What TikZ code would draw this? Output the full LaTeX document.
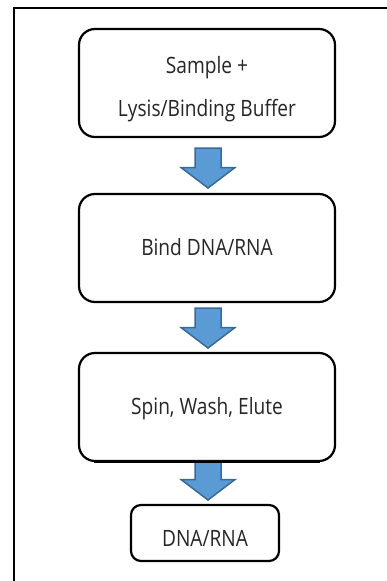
\documentclass[tikz,border=0pt]{standalone}
\usepackage{fontspec}
\setmainfont{Open Sans}[FakeStretch=0.85]
\usetikzlibrary{calc}
\definecolor{arrfill}{HTML}{5B9BD5}
\definecolor{arrline}{HTML}{3A6A94}
\definecolor{txtc}{HTML}{262626}
\tikzset{
  stepbox/.style={draw=black, line width=2.2pt, rounded corners=16pt, fill=white, inner sep=0pt},
  txt/.style={font=\fontsize{22.5}{26}\selectfont, text=txtc, inner sep=0pt, anchor=base},
  barrow/.style={fill=arrfill, draw=arrline, line width=1.5pt, line join=miter},
  frameline/.style={draw=black, line width=2.5pt}
}
\newcommand\blockarr[2]{%
  \path[barrow] ($(#1)+(-13,0)$) -- ($(#1)+(13,0)$) -- ($(#2)+(13,-20.5)$) -- ($(#2)+(27,-20.5)$)
    -- (#2) -- ($(#2)+(-27,-20.5)$) -- ($(#2)+(-13,-20.5)$) -- cycle;}
\begin{document}
\begin{tikzpicture}[x=1pt, y=-1pt]
\useasboundingbox (0,0) rectangle (387,581);
\fill[white] (0,0) rectangle (387,581);
% frame
\coordinate (fTR) at (387,8);
\coordinate (fTL) at (14,8);
\coordinate (fBL) at (14,581);
\draw[frameline] (fTR) -- (fTL) -- (fBL);
% boxes
\node[stepbox, minimum width=256pt, minimum height=108pt] (b1) at (207,83) {};
\node[stepbox, minimum width=256pt, minimum height=108pt] (b2) at (207,248) {};
\node[stepbox, minimum width=256pt, minimum height=108pt] (b3) at (207,407) {};
\node[stepbox, rounded corners=10pt, minimum width=148pt, minimum height=56pt] (b4) at (205,533) {};
% texts
\node[txt] (t1a) at (207,73) {Sample +};
\node[txt] (t1b) at (207,116) {Lysis/Binding Buffer};
\node[txt] (t2) at (207,255) {Bind DNA/RNA};
\node[txt] (t3) at (207,414) {Spin, Wash, Elute};
\node[txt] (t4) at (205,546) {DNA/RNA};
% block arrows
\coordinate (a1s) at (208,148); \coordinate (a1t) at (208,188);
\coordinate (a2s) at (208,308); \coordinate (a2t) at (208,348);
\coordinate (a3s) at (208,461.5); \coordinate (a3t) at (208,500);
\blockarr{a1s}{a1t}
\blockarr{a2s}{a2t}
\blockarr{a3s}{a3t}
\draw[black, line width=2.2pt] ($(b3.south west)+(16,0)$) -- ($(b3.south east)+(-16,0)$);
\end{tikzpicture}
\end{document}
